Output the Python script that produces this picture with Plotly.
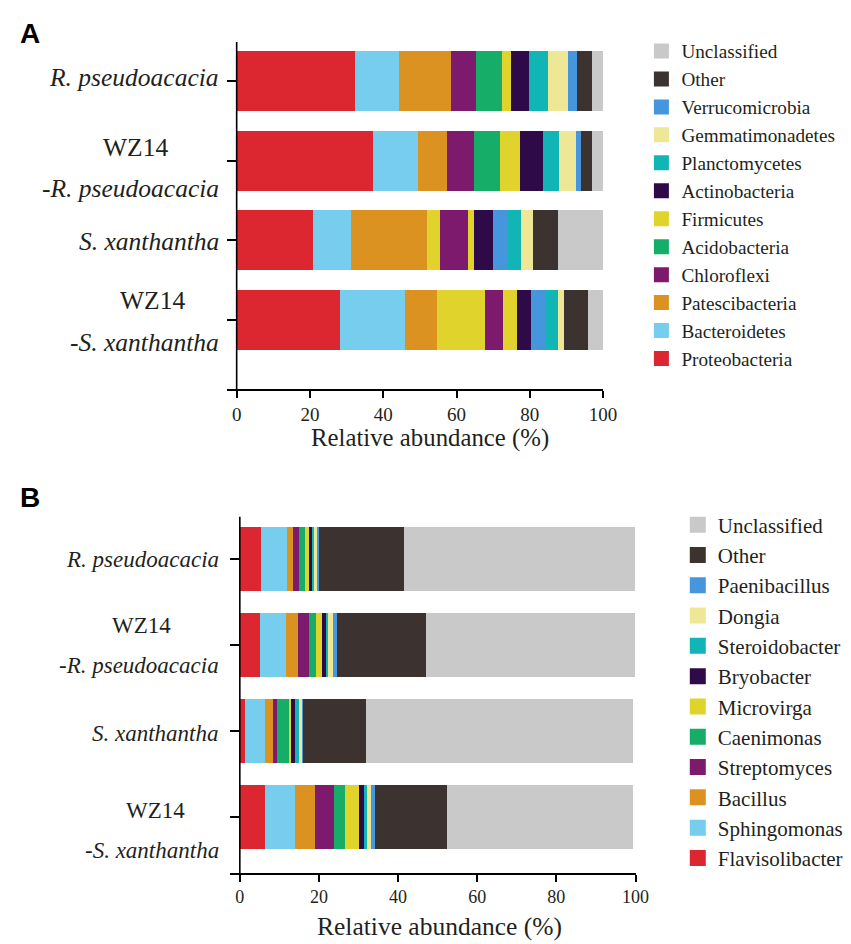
import plotly.graph_objects as go

# ---------------- data ----------------
samples = ["R. pseudoacacia", "WZ14-R. pseudoacacia", "S. xanthantha", "WZ14-S. xanthantha"]

# Panel A: phylum level relative abundance (%)
phyla = ["Proteobacteria", "Bacteroidetes", "Patescibacteria", "Chloroflexi", "Acidobacteria",
         "Firmicutes", "Actinobacteria", "Planctomycetes", "Gemmatimonadetes",
         "Verrucomicrobia", "Other", "Unclassified"]
proteobacteria = [32.3, 37.4, 21.0, 28.2]
bacteroidetes = [12.1, 12.1, 10.3, 17.7]
patescibacteria = [14.1, 8.1, 20.7, 8.9]
chloroflexi = [7.0, 7.4, 7.8, 4.9]
acidobacteria = [7.0, 6.9, 1.6, 3.9]
firmicutes = [2.6, 5.4, 3.5, 13.0]
actinobacteria = [4.8, 6.3, 5.1, 3.9]
planctomycetes = [5.3, 4.5, 3.6, 3.6]
gemmatimonadetes = [5.4, 4.5, 3.4, 1.7]
verrucomicrobia = [2.5, 1.4, 4.1, 3.7]
other_a = [4.0, 3.1, 6.7, 6.6]
unclassified_a = [2.9, 2.9, 12.2, 3.9]

# stacking order of the segments in each bar of panel A (as drawn in the source)
order_a_r = ["Proteobacteria", "Bacteroidetes", "Patescibacteria", "Chloroflexi", "Acidobacteria",
             "Firmicutes", "Actinobacteria", "Planctomycetes", "Gemmatimonadetes",
             "Verrucomicrobia", "Other", "Unclassified"]
order_a_s = ["Proteobacteria", "Bacteroidetes", "Patescibacteria", "Firmicutes", "Chloroflexi",
             "Acidobacteria", "Actinobacteria", "Verrucomicrobia", "Planctomycetes",
             "Gemmatimonadetes", "Other", "Unclassified"]

# Panel B: genus level relative abundance (%)
genera = ["Flavisolibacter", "Sphingomonas", "Bacillus", "Streptomyces", "Caenimonas",
          "Microvirga", "Bryobacter", "Steroidobacter", "Dongia", "Paenibacillus",
          "Other", "Unclassified"]
flavisolibacter = [5.3, 5.1, 1.4, 6.5]
sphingomonas = [6.6, 6.7, 5.1, 7.6]
bacillus = [1.5, 3.0, 1.9, 5.0]
streptomyces = [1.7, 2.8, 1.0, 4.7]
caenimonas = [1.5, 1.8, 3.0, 2.9]
microvirga = [1.0, 1.5, 0.6, 3.6]
bryobacter = [0.6, 1.0, 1.1, 1.2]
steroidobacter = [0.7, 0.5, 1.0, 0.8]
dongia = [0.7, 1.2, 0.8, 0.9]
paenibacillus = [0.5, 1.0, 0.2, 1.0]
other_b = [21.5, 22.4, 15.9, 18.2]
unclassified_b = [58.4, 53.0, 67.5, 47.1]

x_ticks = [0, 20, 40, 60, 80, 100]

# ---------------- geometry ----------------
# the page places the figure 8px below the top edge; compensate vertically
OX, OY = 0, 8
W, H = 851 - OX, 944 - OY


def px_x(p):
    return (p - OX) / W


def px_y(p):
    return 1 - (p - OY) / H


# ---------------- styles ----------------
palette = ["#DC2630", "#76CDEE", "#DB9220", "#7D1A6E", "#15AD68", "#E0D42C",
           "#2E0A48", "#12B5B5", "#EDE796", "#4596DC", "#3C3230", "#C8C9C8"]
col_a = {p: c for p, c in zip(phyla, palette)}
col_a_s = dict(col_a)
col_a_s["Acidobacteria"] = col_a["Firmicutes"]   # drawn yellow in the S. xanthantha bars
col_b = {g: c for g, c in zip(genera, palette)}

vals_a = dict(zip(phyla, [proteobacteria, bacteroidetes, patescibacteria, chloroflexi,
                          acidobacteria, firmicutes, actinobacteria, planctomycetes,
                          gemmatimonadetes, verrucomicrobia, other_a, unclassified_a]))
vals_b = dict(zip(genera, [flavisolibacter, sphingomonas, bacillus, streptomyces, caenimonas,
                           microvirga, bryobacter, steroidobacter, dongia, paenibacillus,
                           other_b, unclassified_b]))

SERIF = "Liberation Serif, Times New Roman, serif"
TXT = "#231F20"

fig = go.Figure()

# panel A bars
orders_a = [order_a_r, order_a_r, order_a_s, order_a_s]
cols_rows_a = [col_a, col_a, col_a_s, col_a_s]
for i, s in enumerate(samples):
    for taxon in orders_a[i]:
        fig.add_trace(go.Bar(y=[s], x=[vals_a[taxon][i]], orientation="h", width=0.75,
                             marker=dict(color=cols_rows_a[i][taxon], line=dict(width=0)),
                             name=taxon, showlegend=False, xaxis="x", yaxis="y",
                             hovertemplate=taxon + ": %{x}%<extra></extra>"))
# panel B bars
for i, s in enumerate(samples):
    for taxon in genera:
        fig.add_trace(go.Bar(y=[s], x=[vals_b[taxon][i]], orientation="h", width=0.745,
                             marker=dict(color=col_b[taxon], line=dict(width=0)),
                             name=taxon, showlegend=False, xaxis="x2", yaxis="y2",
                             hovertemplate=taxon + ": %{x}%<extra></extra>"))

# legend entries (top = Unclassified)
for taxon in reversed(phyla):
    fig.add_trace(go.Scatter(x=[None], y=[None], mode="markers", name=taxon,
                             marker=dict(symbol="square", size=15, color=col_a[taxon]),
                             legend="legend", xaxis="x", yaxis="y"))
for taxon in reversed(genera):
    fig.add_trace(go.Scatter(x=[None], y=[None], mode="markers", name=taxon,
                             marker=dict(symbol="square", size=16, color=col_b[taxon]),
                             legend="legend2", xaxis="x2", yaxis="y2"))

axis_common = dict(showgrid=False, zeroline=False, linecolor="black", linewidth=1.6,
                   tickcolor="black", tickwidth=1.6)

fig.update_layout(
    width=W, height=H, autosize=False,
    margin=dict(l=0, r=0, t=0, b=0),
    paper_bgcolor="white", plot_bgcolor="white",
    barmode="stack", bargap=0,
    font=dict(family=SERIF, color=TXT),
    xaxis=dict(domain=[px_x(223), px_x(605)], range=[-2.55, 100], anchor="y",
               showline=True, ticks="outside", ticklen=7, tickvals=x_ticks,
               ticklabelstandoff=0, tickfont=dict(family=SERIF, size=19, color=TXT),
               **axis_common),
    yaxis=dict(domain=[px_y(389), px_y(42)], range=[3.866, -0.4895], anchor="x",
               type="category", categoryorder="array", categoryarray=samples,
               showline=False, ticks="inside", ticklen=9, showticklabels=False,
               **axis_common),
    xaxis2=dict(domain=[px_x(226), px_x(638)], range=[-2.411, 100], anchor="y2",
                showline=True, ticks="outside", ticklen=7, tickvals=x_ticks,
                ticklabelstandoff=0, tickfont=dict(family=SERIF, size=18, color=TXT),
                **axis_common),
    yaxis2=dict(domain=[px_y(873), px_y(516.7)], range=[3.651, -0.492], anchor="x2",
                type="category", categoryorder="array", categoryarray=samples,
                showline=False, ticks="inside", ticklen=9, showticklabels=False,
                **axis_common),
    legend=dict(x=px_x(644), y=px_y(32), xanchor="left", yanchor="top",
                font=dict(family=SERIF, size=19.2, color=TXT), itemsizing="trace",
                traceorder="normal", bgcolor="rgba(0,0,0,0)"),
    legend2=dict(x=px_x(681), y=px_y(504.5), xanchor="left", yanchor="top",
                 font=dict(family=SERIF, size=21, color=TXT), itemsizing="trace",
                 traceorder="normal", bgcolor="rgba(0,0,0,0)"),
    shapes=[
        dict(type="line", xref="x", yref="y domain", x0=0, x1=0, y0=0, y1=1,
             line=dict(color="black", width=1.6), layer="above"),
        dict(type="line", xref="x2", yref="y2 domain", x0=0, x1=0, y0=0, y1=1,
             line=dict(color="black", width=1.6), layer="above"),
    ],
)

# row labels: (text, anchor, x px, y offset px from bar centre (+ = down))
labels_a = [
    [("<i>R. pseudoacacia</i>", "right", 217, -3)],
    [("WZ14", "center", 130, -13), ("<i>-R. pseudoacacia</i>", "right", 217, 28)],
    [("<i>S. xanthantha</i>", "right", 217, 1)],
    [("WZ14", "center", 147, -20), ("<i>-S. xanthantha</i>", "right", 217, 22)],
]
labels_b = [
    [("<i>R. pseudoacacia</i>", "right", 217, 0)],
    [("WZ14", "center", 136, -20), ("<i>-R. pseudoacacia</i>", "right", 217, 20)],
    [("<i>S. xanthantha</i>", "right", 217, 2)],
    [("WZ14", "center", 150, -7), ("<i>-S. xanthantha</i>", "right", 217, 33)],
]
annotations = []
for lab, yref, size in [(labels_a, "y", 25.5), (labels_b, "y2", 23)]:
    for s, lines in zip(samples, lab):
        for text, anchor, xp, off in lines:
            annotations.append(dict(text=text, xref="paper", yref=yref, x=px_x(xp), y=s,
                                    xanchor=anchor, yanchor="middle", yshift=-off,
                                    showarrow=False,
                                    font=dict(family=SERIF, size=size, color=TXT)))
# axis titles
annotations.append(dict(text="Relative abundance (%)", xref="paper", yref="paper",
                        x=px_x(429), y=px_y(438), xanchor="center", yanchor="middle",
                        showarrow=False, font=dict(family=SERIF, size=24.8, color=TXT)))
annotations.append(dict(text="Relative abundance (%)", xref="paper", yref="paper",
                        x=px_x(438.5), y=px_y(926), xanchor="center", yanchor="middle",
                        showarrow=False, font=dict(family=SERIF, size=25.5, color=TXT)))
# panel letters
for letter, yp in [("A", 33), ("B", 497)]:
    annotations.append(dict(text="<b>" + letter + "</b>", xref="paper", yref="paper",
                            x=px_x(22.5), y=px_y(yp), xanchor="center", yanchor="middle",
                            showarrow=False,
                            font=dict(family="Liberation Sans, Arial, sans-serif", size=28,
                                      color="black")))
fig.update_layout(annotations=annotations)

fig.write_html("out.html")
